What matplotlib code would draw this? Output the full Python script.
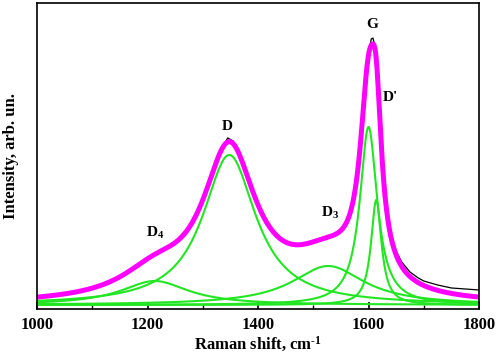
import numpy as np
import matplotlib
matplotlib.use('Agg')
import matplotlib.pyplot as plt

plt.rcParams['font.family'] = ['Liberation Serif', 'DejaVu Serif']
plt.rcParams['font.weight'] = 'bold'
plt.rcParams['mathtext.fontset'] = 'custom'
plt.rcParams['mathtext.rm'] = 'Liberation Serif:bold'
plt.rcParams['mathtext.bf'] = 'Liberation Serif:bold'
plt.rcParams['mathtext.default'] = 'bf'

# Lorentz-komponenter: D4, D, D3, G, D'
peak_names = ['D4', 'D', 'D3', 'G', "D'"]
peak_centers = [1213, 1348, 1527, 1600, 1614]
peak_heights = [24, 150, 39, 178, 105]
peak_fwhm = [150, 117, 160, 38, 23]

baseline = 4

# Mätdata (avlästa punkter)
exp_x = [1000, 1025, 1050, 1075, 1100, 1125, 1150, 1175, 1200, 1225, 1250,
         1275, 1300, 1320, 1335, 1345, 1355, 1370, 1385, 1400, 1425, 1450,
         1475, 1500, 1525, 1550, 1565, 1575, 1585, 1590, 1595, 1600, 1605,
         1608, 1612, 1616, 1620, 1625, 1630, 1640, 1650, 1660, 1675, 1690,
         1700, 1725, 1750, 1775, 1800]
exp_y = [12, 13, 15, 17, 21, 25, 32, 41, 51, 57, 67,
         82, 110, 141, 160, 171, 168, 150, 127, 104, 79, 66,
         63, 66, 70, 80, 92, 112, 163, 196, 231, 256, 270,
         271, 262, 240, 196, 150, 115, 77, 58, 47, 37, 31,
         28, 24, 21, 20, 19]

x = np.linspace(1000, 1800, 1601)
comps = []
for c, h, w in zip(peak_centers, peak_heights, peak_fwhm):
    comps.append(h / (1 + ((x - c) / (w / 2)) ** 2))
total = sum(comps) + baseline

fig = plt.figure(figsize=(4.98, 3.63), dpi=100)
ax = fig.add_axes([0.0743, 0.1488, 0.8876, 0.843])

# Mätdata, komponenter och summan av anpassningen
ax.plot(exp_x, exp_y, color='black', lw=0.9)
for comp in comps:
    ax.plot(x, comp + baseline, color='#22e622', lw=1.5)
ax.plot(x, total, color='#ff00ff', lw=3.6)

# Etiketter för topparna
ax.text(1607, 284, 'G', ha='center', va='center', fontsize=11, fontweight='bold')
ax.text(1640, 211, "D'", ha='center', va='center', fontsize=11, fontweight='bold')
ax.text(1344, 182, 'D', ha='center', va='center', fontsize=11, fontweight='bold')
ax.text(1530, 96, r'D$_{\mathbf{3}}$', ha='center', va='center', fontsize=11, fontweight='bold')
ax.text(1213, 76, r'D$_{\mathbf{4}}$', ha='center', va='center', fontsize=11, fontweight='bold')

ax.set_xlim(1000, 1800)
ax.set_ylim(0, 306)
ax.set_yticks([])
ax.set_xticks([1000, 1200, 1400, 1600, 1800])
ax.set_xticks([1100, 1300, 1500, 1700], minor=True)
ax.tick_params(axis='x', which='major', direction='in', length=5, width=1.2, labelsize=12, pad=6)
ax.tick_params(axis='x', which='minor', direction='in', length=3, width=1.0)
for lab in ax.get_xticklabels():
    lab.set_fontweight('bold')
for sp in ax.spines.values():
    sp.set_linewidth(1.2)

ax.set_xlabel(r'Raman shift, cm$^{\text{-1}}$', fontsize=12, fontweight='bold', labelpad=1)
ax.set_ylabel('Intensity, arb. un.', fontsize=12, fontweight='bold', labelpad=13)

fig.savefig('out.png', dpi=100)
